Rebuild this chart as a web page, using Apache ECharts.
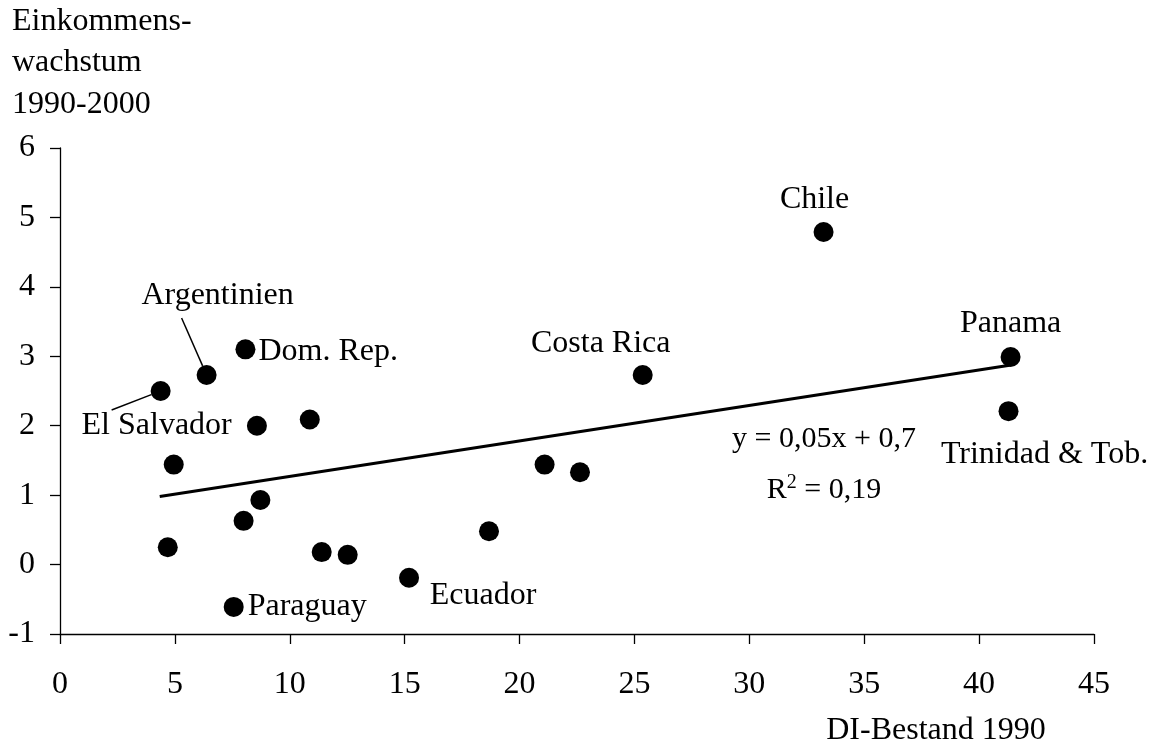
<!DOCTYPE html>
<html>
<head>
<meta charset="utf-8">
<script src="https://cdn.jsdelivr.net/npm/echarts@6/dist/echarts.min.js"></script>
<style>
html,body{margin:0;padding:0;background:#fff;}
#chart{width:1157px;height:744px;}
</style>
</head>
<body>
<div id="chart"></div>
<script>
// ---- data ----
const countries = ['El Salvador','Argentinien','Dom. Rep.','','','','','','','','','Paraguay','Ecuador','','','','Costa Rica','Chile','Panama','Trinidad & Tob.'];
const diStock1990 = [4.38,6.38,8.07,8.57,10.87,4.95,8.72,7.99,4.69,11.39,12.52,7.56,15.19,18.67,21.09,22.63,25.36,33.23,41.37,41.28];
const incomeGrowth = [2.50,2.73,3.10,2.00,2.09,1.44,0.93,0.63,0.25,0.18,0.14,-0.61,-0.19,0.48,1.44,1.33,2.73,4.79,2.99,2.21];
const trendX = [4.34, 41.33];
const trendY = [0.98, 2.87];
const xTickLabels = ['0','5','10','15','20','25','30','35','40','45'];
const yTickLabels = ['-1','0','1','2','3','4','5','6'];
const yTitleLines = ['Einkommens-','wachstum','1990-2000'];
const xTitle = 'DI-Bestand 1990';
const formulaLine = 'y = 0,05x + 0,7';
const r2Value = '0,19';

// ---- styling / layout ----
const FONT = '"Liberation Serif","Times New Roman",serif';
const labelPlacement = {
  'El Salvador':     {position:'inside', offset:[-4,35]},
  'Argentinien':     {position:'inside', offset:[11,-79]},
  'Dom. Rep.':       {position:'right', distance:3, offset:[0,2]},
  'Paraguay':        {position:'right', distance:4},
  'Ecuador':         {position:'inside', offset:[74,18]},
  'Costa Rica':      {position:'inside', offset:[-42,-31]},
  'Chile':           {position:'inside', offset:[-9,-32]},
  'Panama':          {position:'inside', offset:[0,-33]},
  'Trinidad & Tob.': {position:'inside', offset:[36,43]}
};
const leaderStart = { 'El Salvador':[-49,19], 'Argentinien':[-25,-57] };
const leaderNames = Object.keys(leaderStart);
const SYMBOL = 20;

const scatterData = diStock1990.map((x, i) => {
  const item = { value: [x, incomeGrowth[i]], name: countries[i] };
  const p = labelPlacement[countries[i]];
  if (p) {
    item.label = Object.assign({
      show: true, formatter: countries[i], color: '#000', fontSize: 32,
      fontFamily: FONT, textBorderWidth: 0
    }, p);
  }
  return item;
});

const leaderData = leaderNames.map(n => {
  const i = countries.indexOf(n);
  return [diStock1990[i], incomeGrowth[i]];
});

const chart = echarts.init(document.getElementById('chart'), null, {renderer:'canvas'});
chart.setOption({
  backgroundColor: '#fff',
  animation: false,
  grid: { left: 60, right: 63, top: 148, bottom: 110, containLabel: false, outerBoundsMode: 'none' },
  xAxis: {
    type: 'value', min: 0, max: 45, interval: 5,
    axisLine: { show: true, onZero: false, lineStyle: { color: '#000', width: 1.3 } },
    axisTick: { show: true, length: 10, lineStyle: { color: '#000', width: 1.3 } },
    axisLabel: { show: true, margin: 35, color: '#000', fontSize: 32, fontFamily: FONT,
      showMinLabel: true, showMaxLabel: true,
      formatter: v => xTickLabels[Math.round(v / 5)] },
    splitLine: { show: false }
  },
  yAxis: {
    type: 'value', min: -1, max: 6, interval: 1,
    axisLine: { show: true, onZero: false, lineStyle: { color: '#000', width: 1.3 } },
    axisTick: { show: true, length: 10, lineStyle: { color: '#000', width: 1.3 } },
    axisLabel: { show: true, margin: 25, color: '#000', fontSize: 32, fontFamily: FONT,
      showMinLabel: true, showMaxLabel: true,
      formatter: v => yTickLabels[Math.round(v + 1)] },
    splitLine: { show: false }
  },
  series: [
    {
      type: 'line', name: 'trend',
      data: [[trendX[0], trendY[0]], [trendX[1], trendY[1]]],
      symbol: 'none', silent: true, z: 2,
      lineStyle: { color: '#000', width: 3 }
    },
    {
      type: 'custom', name: 'leaders', silent: true, z: 3,
      data: leaderData,
      renderItem: (params, api) => {
        const c = api.coord([api.value(0), api.value(1)]);
        const f = leaderStart[leaderNames[params.dataIndex]];
        const d = Math.hypot(f[0], f[1]);
        const r = SYMBOL / 2;
        return {
          type: 'line',
          shape: { x1: c[0] + f[0], y1: c[1] + f[1], x2: c[0] + f[0] / d * r, y2: c[1] + f[1] / d * r },
          style: { stroke: '#000', lineWidth: 1.5 }
        };
      }
    },
    {
      type: 'scatter', name: 'countries', z: 4,
      symbol: 'circle', symbolSize: SYMBOL,
      itemStyle: { color: '#000', opacity: 1 },
      label: { show: false },
      emphasis: { disabled: true },
      data: scatterData
    }
  ],
  graphic: [
    { type: 'text', x: 12, y: 22, style: { text: yTitleLines[0], font: '32px ' + FONT, fill: '#000', textAlign: 'left', align: 'left', textVerticalAlign: 'middle', verticalAlign: 'middle' } },
    { type: 'text', x: 12, y: 63, style: { text: yTitleLines[1], font: '32px ' + FONT, fill: '#000', textAlign: 'left', align: 'left', textVerticalAlign: 'middle', verticalAlign: 'middle' } },
    { type: 'text', x: 12, y: 105, style: { text: yTitleLines[2], font: '32px ' + FONT, fill: '#000', textAlign: 'left', align: 'left', textVerticalAlign: 'middle', verticalAlign: 'middle' } },
    { type: 'text', x: 936, y: 731, style: { text: xTitle, font: '32px ' + FONT, fill: '#000', textAlign: 'center', align: 'center', textVerticalAlign: 'middle', verticalAlign: 'middle' } },
    { type: 'text', x: 824, y: 439, style: { text: formulaLine, font: '30px ' + FONT, fill: '#000', textAlign: 'center', align: 'center', textVerticalAlign: 'middle', verticalAlign: 'middle' } },
    { type: 'text', x: 824, y: 490, style: {
        text: '{n|R}{s|2}{n| = ' + r2Value + '}',
        textAlign: 'center', align: 'center', textVerticalAlign: 'middle', verticalAlign: 'middle',
        rich: {
          n: { fontSize: 30, fontFamily: FONT, color: '#000', fill: '#000', lineHeight: 34 },
          s: { fontSize: 20, fontFamily: FONT, color: '#000', fill: '#000', lineHeight: 20, verticalAlign: 'top', textVerticalAlign: 'top' }
        }
      } }
  ]
});
</script>
</body>
</html>
